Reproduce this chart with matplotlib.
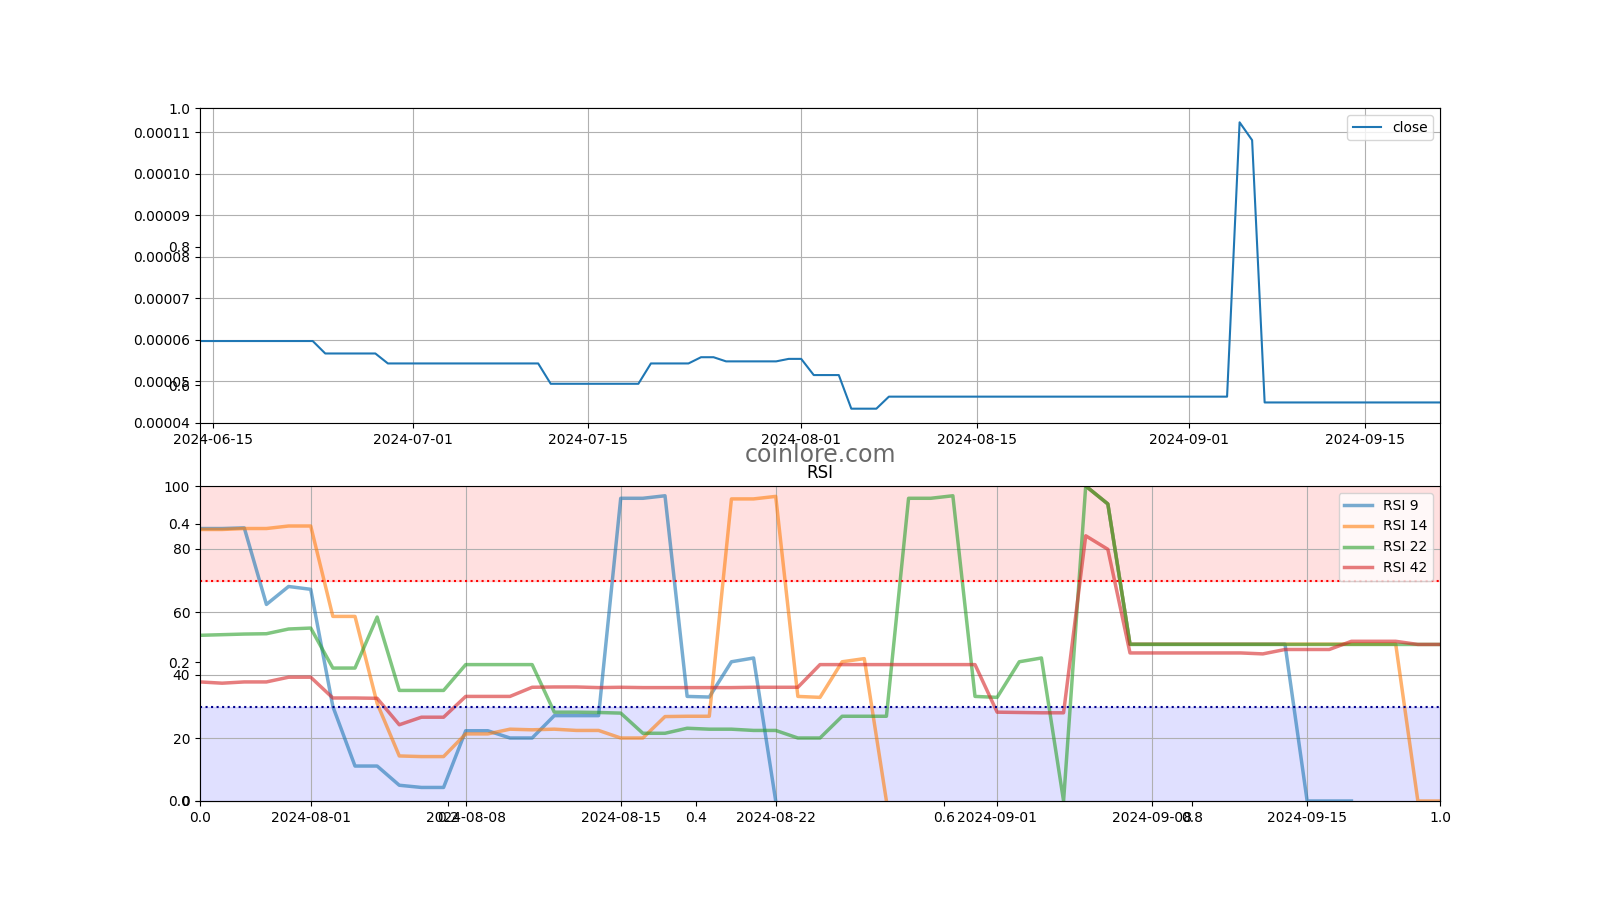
import numpy as np
import pandas as pd
import matplotlib
matplotlib.use('Agg')
import matplotlib.pyplot as plt

# цена закрытия, по дням с 2024-06-14
close_dates = pd.date_range('2024-06-14', '2024-09-21', freq='D')
close = ([5.97e-5] * 10 + [5.67e-5] * 5 + [5.43e-5] * 13 + [4.94e-5] * 8 +
         [5.43e-5] * 4 + [5.58e-5] * 2 + [5.48e-5] * 5 + [5.54e-5] * 2 +
         [5.15e-5] * 3 + [4.34e-5] * 3 + [4.63e-5] * 28 +
         [1.124e-4, 1.081e-4] + [4.49e-5] * 15)

# RSI, по дням с 2024-07-27
rsi_dates = pd.date_range('2024-07-27', '2024-09-21', freq='D')
nan = np.nan
rsi9 = ([86.5, 86.5, 86.7, 62.4, 68.1, 67.2, 30.0, 11.1, 11.1, 5.0, 4.3, 4.3,
         22.3, 22.3, 20.0, 20.0, 27.1, 27.1, 27.1, 96.1, 96.1, 96.9, 33.2, 33.0,
         44.2, 45.4, 0.0] + [nan] * 13 +
        [100.0, 94.3] + [49.8] * 8 + [0.0, 0.0, 0.0] + [nan] * 4)
rsi14 = ([86.2, 86.2, 86.5, 86.5, 87.3, 87.3, 58.6, 58.6, 31.0, 14.3, 14.1, 14.1,
          21.3, 21.3, 22.8, 22.6, 22.8, 22.4, 22.4, 20.0, 20.0, 26.8, 26.9, 26.9,
          95.9, 95.9, 96.7, 33.2, 32.9, 44.2, 45.2, 0.0] + [nan] * 8 +
         [100.0, 94.3] + [49.8] * 13 + [0.0, 0.0])
rsi22 = [52.6, 52.8, 53.0, 53.1, 54.6, 54.9, 42.2, 42.2, 58.4, 35.1, 35.1, 35.1,
         43.3, 43.3, 43.3, 43.3, 28.2, 28.2, 28.1, 27.9, 21.5, 21.5, 23.1, 22.8,
         22.8, 22.4, 22.4, 20.0, 20.0, 26.9, 26.9, 26.9, 96.1, 96.1, 96.9, 33.2,
         32.9, 44.2, 45.4, 0.0, 100.0, 94.3] + [49.7] * 15
rsi42 = ([37.8, 37.4, 37.8, 37.8, 39.3, 39.3, 32.7, 32.7, 32.6, 24.2, 26.6, 26.6,
          33.2, 33.2, 33.2, 36.1, 36.2, 36.2, 36.0, 36.1, 36.0, 36.0, 36.0, 36.0,
          36.0, 36.1, 36.1, 36.1] + [43.3] * 8 + [28.2, 28.1, 28.0, 28.0, 84.2, 79.9] +
         [47.0] * 6 + [46.7, 48.1, 48.1, 48.1, 50.7, 50.7, 50.7, 49.7, 49.7])

rsi_names = ['RSI 9', 'RSI 14', 'RSI 22', 'RSI 42']

fig, ax = plt.subplots(figsize=(16, 9), dpi=100)
ax.text(0.5, 0.5, 'coinlore.com', transform=ax.transAxes, ha='center',
        va='center', fontsize=17, color='#444444', alpha=0.8)

ax1 = fig.add_subplot(211)
ax1.plot(close_dates, close, label='close')
ax1.set_xlim(close_dates[0], close_dates[-1])
ax1.grid(True)
ax1.legend(loc='upper right')

ax2 = fig.add_subplot(212)
for name, vals in zip(rsi_names, [rsi9, rsi14, rsi22, rsi42]):
    ax2.plot(rsi_dates, vals, label=name, linewidth=2.5, alpha=0.6)
ax2.axhline(70, color='r', linestyle=':', linewidth=1.5)
ax2.axhline(30, color='darkblue', linestyle=':', linewidth=1.5)
ax2.axhspan(70, 100, color='red', alpha=0.12)
ax2.axhspan(0, 30, color='blue', alpha=0.12)
ax2.set_xlim(rsi_dates[0], rsi_dates[-1])
ax2.set_ylim(0, 100)
ax2.set_title('RSI')
ax2.grid(True)
ax2.legend(loc='upper right')

plt.savefig('out.png')
